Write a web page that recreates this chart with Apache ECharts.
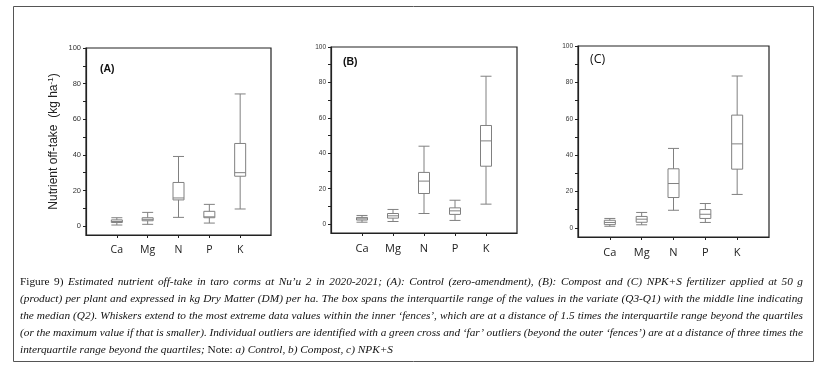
<!DOCTYPE html>
<html><head><meta charset="utf-8">
<script src="https://cdn.jsdelivr.net/npm/echarts@6/dist/echarts.min.js"></script>
<style>html,body{margin:0;padding:0;background:#fff}#c{width:824px;height:372px}</style>
</head><body><div id="c"></div>
<script>
const categories = ['Ca', 'Mg', 'N', 'P', 'K'];
const yTickLabels = [0, 20, 40, 60, 80, 100];
const yTickMarks = [0, 10, 20, 30, 40, 50, 60, 70, 80, 90, 100];
// each row: [min, Q1, median, Q3, max]
const controlA = [[0.6, 2.0, 2.6, 3.5, 4.7], [1.0, 3.0, 3.8, 4.7, 7.7], [4.9, 14.7, 15.8, 24.5, 39.1], [1.7, 4.7, 5.2, 8.3, 12.2], [9.6, 28.0, 30.0, 46.4, 74.2]];
const compostB = [[1.1, 2.3, 3.0, 3.8, 4.9], [1.5, 3.4, 4.7, 6.0, 8.3], [6.0, 17.3, 24.3, 29.2, 44.0], [2.1, 5.5, 7.5, 9.2, 13.5], [11.3, 32.7, 47.0, 55.7, 83.5]];
const npkC = [[0.9, 1.8, 3.0, 4.2, 5.2], [1.7, 3.1, 4.8, 6.3, 8.5], [9.7, 16.7, 24.4, 32.5, 43.7], [3.0, 5.2, 7.5, 10.1, 13.4], [18.4, 32.3, 46.2, 62.0, 83.5]];
const panelLabels = ['(A)', '(B)', '(C)'];
const yAxisTitle = 'Nutrient off-take  (kg ha';
// caption: segments [text, italic?]
const captionLines = [
  [['Figure 9)', false], ['Estimated nutrient off-take in taro corms at Nu\u2019u 2 in 2020-2021; (A): Control (zero-amendment), (B): Compost and (C) NPK+S fertilizer applied at 50 g', true]],
  [['(product) per plant and expressed in kg Dry Matter (DM) per ha. The box spans the interquartile range of the values in the variate (Q3-Q1) with the middle line indicating', true]],
  [['the median (Q2). Whiskers extend to the most extreme data values within the inner \u2018fences\u2019, which are at a distance of 1.5 times the interquartile range beyond the quartiles', true]],
  [['(or the maximum value if that is smaller). Individual outliers are identified with a green cross and \u2018far\u2019 outliers (beyond the outer \u2018fences\u2019) are at a distance of three times the', true]],
  [['interquartile range beyond the quartiles;', true], ['Note:', false], ['a) Control, b) Compost, c) NPK+S', true]]
];

const panels = [
  {data: controlA, grid: {left: 86, top: 48, width: 185, height: 187}, yFont: 7.5, xFont: 10.5, label: {x: 100, y: 70, bold: true, size: 10.5}},
  {data: compostB, grid: {left: 331, top: 47, width: 186, height: 186}, yFont: 6.5, xFont: 11, label: {x: 343, y: 63, bold: true, size: 10.5}},
  {data: npkC, grid: {left: 578, top: 46, width: 191, height: 191}, yFont: 6.5, xFont: 11, label: {x: 590, y: 60, bold: false, size: 12.5}}
];

const axisColor = '#222';
const grids = [], xAxes = [], yAxes = [], series = [], graphics = [];
panels.forEach((p, i) => {
  grids.push(Object.assign({show: true, borderColor: axisColor, borderWidth: 1.2, backgroundColor: 'transparent'}, p.grid));
  const catPos = categories.map((c, k) => k + 1);
  xAxes.push({
    gridIndex: i, type: 'value', min: 0, max: categories.length + 1,
    axisLine: {show: true, onZero: false, lineStyle: {color: axisColor, width: 1.2}},
    axisTick: {show: true, customValues: catPos, length: 3, lineStyle: {color: axisColor}},
    axisLabel: {customValues: catPos, formatter: v => categories[Math.round(v) - 1] || '', fontSize: p.xFont, color: '#222', margin: 10, fontFamily: 'Open Sans'},
    splitLine: {show: false}
  });
  yAxes.push({
    gridIndex: i, type: 'value', min: -5, max: 100,
    axisLine: {show: true, onZero: false, lineStyle: {color: axisColor, width: 1.2}},
    axisTick: {show: true, customValues: yTickMarks, length: 3, lineStyle: {color: axisColor}},
    axisLabel: {customValues: yTickLabels, fontSize: p.yFont, color: '#333', margin: 5, fontFamily: 'Liberation Sans'},
    splitLine: {show: false},
    name: i === 0 ? yAxisTitle + '{sup|-1}' + ')' : '',
    nameLocation: 'middle', nameGap: 26, nameRotate: 90,
    nameTextStyle: {fontSize: 12, color: '#222', fontFamily: 'Liberation Sans', rich: {sup: {fontSize: 8, verticalAlign: 'top', color: '#222', fontFamily: 'Liberation Sans', padding: [0, 0, 5, 0]}}}
  });
  series.push({
    type: 'boxplot', xAxisIndex: i, yAxisIndex: i,
    data: p.data.map((v, k) => [k + 1].concat(v)),
    boxWidth: [11, 11],
    itemStyle: {color: '#fff', borderColor: '#808080', borderWidth: 1},
    emphasis: {disabled: true}, silent: true
  });
  graphics.push({
    type: 'text', left: p.label.x, top: p.label.y - p.label.size / 2 - 1,
    style: {text: panelLabels[i], fontSize: p.label.size, fontWeight: p.label.bold ? 'bold' : 'normal', fill: '#111', fontFamily: p.label.bold ? 'Liberation Sans' : 'Open Sans'}
  });
});

graphics.push({type: 'rect', shape: {x: 13.5, y: 6.5, width: 800, height: 355}, style: {fill: 'none', stroke: '#555', lineWidth: 1}});

// justified caption
const capFont = 11.3, capLeft = 20, capRight = 803, capTop = 282, capStep = 17;
const ctx = document.createElement('canvas').getContext('2d');
captionLines.forEach((segs, j) => {
  const words = [];
  segs.forEach(([t, it]) => t.split(' ').forEach(w => { if (w) words.push([w, it]); }));
  let total = 0;
  const widths = words.map(([w, it]) => {
    ctx.font = (it ? 'italic ' : '') + capFont + 'px "Liberation Serif"';
    const m = ctx.measureText(w).width; total += m; return m;
  });
  ctx.font = capFont + 'px "Liberation Serif"';
  const space = ctx.measureText(' ').width;
  const justify = j < captionLines.length - 1;
  const gap = justify ? (capRight - capLeft - total) / (words.length - 1) : space;
  let x = capLeft;
  words.forEach(([w, it], k) => {
    graphics.push({type: 'text', x: x, y: capTop + j * capStep,
      style: {text: w, verticalAlign: 'middle', fill: '#111', fontFamily: 'Liberation Serif', fontStyle: it ? 'italic' : 'normal', fontSize: capFont}});
    x += widths[k] + gap;
  });
});

const chart = echarts.init(document.getElementById('c'), null, {renderer: 'canvas'});
chart.setOption({
  animation: false,
  grid: grids, xAxis: xAxes, yAxis: yAxes, series: series, graphic: graphics
});
</script></body></html>
